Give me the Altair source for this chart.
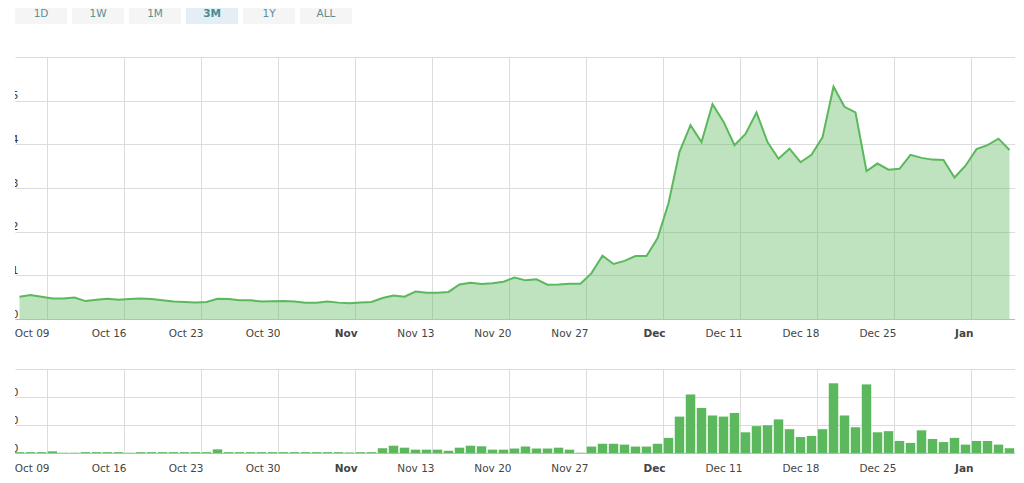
import altair as alt
import pandas as pd

# daily price, Oct 6 to Jan 4
price = [0.51, 0.55, 0.51, 0.47, 0.47, 0.49, 0.41, 0.44, 0.465, 0.44,
         0.46, 0.47, 0.46, 0.43, 0.40, 0.39, 0.38, 0.39, 0.465, 0.46,
         0.43, 0.43, 0.40, 0.405, 0.41, 0.40, 0.375, 0.375, 0.40, 0.375,
         0.36, 0.38, 0.39, 0.48, 0.54, 0.51, 0.63, 0.60, 0.60, 0.62,
         0.79, 0.83, 0.80, 0.82, 0.855, 0.95, 0.885, 0.91, 0.786, 0.79,
         0.81, 0.81, 1.05, 1.45, 1.26, 1.33, 1.44, 1.44, 1.85, 2.65,
         3.83, 4.44, 4.05, 4.92, 4.52, 3.98, 4.24, 4.73, 4.05, 3.67,
         3.90, 3.59, 3.76, 4.16, 5.32, 4.86, 4.73, 3.39, 3.56, 3.42,
         3.44, 3.76, 3.69, 3.65, 3.64, 3.24, 3.51, 3.89, 3.98, 4.13, 3.87]

volume = [3, 3, 3, 6, 1, 1, 3, 3, 3, 3,
          1, 3, 3, 3, 3, 3, 3, 3, 13, 3,
          3, 3, 3, 3, 3, 3, 3, 3, 3, 3,
          2, 3, 3, 17, 26, 19, 12, 12, 12, 8,
          19, 26, 24, 12, 12, 16, 23, 16, 16, 19,
          12, 1, 23, 33, 33, 30, 23, 23, 33, 54,
          130, 209, 161, 134, 130, 143, 74, 96, 99, 120,
          85, 57, 61, 85, 249, 134, 92, 245, 74, 78,
          43, 36, 81, 50, 39, 54, 30, 43, 43, 30, 17]

buttons = ['1D', '1W', '1M', '3M', '1Y', 'ALL']
active = '3M'

GREEN = '#5cb85c'
GRID = '#dcdcdc'
FONT = 'DejaVu Sans'


def ms(text):
    return int(pd.Timestamp(text, tz='UTC').value // 10**6)


dates = pd.date_range('2017-10-06 12:00', periods=len(price), freq='D', tz='UTC')
df = pd.DataFrame({'date': dates.strftime('%Y-%m-%dT%H:%M:%SZ'), 'price': price, 'volume': volume})

week_ticks = [ms(d) for d in pd.date_range('2017-10-09', '2018-01-01', freq='7D')]
x_domain = [ms('2017-10-06 02:11'), ms('2018-01-05')]

x_scale = alt.Scale(type='utc', domain=x_domain, padding=0)


def x_axis(pad):
    return alt.Axis(
        values=week_ticks, title=None, ticks=False, grid=True, gridColor=GRID,
        domain=True, domainColor='#bbbbbb',
        labelAlign='right', labelOffset=2, labelPadding=pad, labelFont=FONT, labelFontSize=10.5,
        labelColor='#444444', labelOverlap=False, labelFlush=False,
        labelExpr="utcdate(datum.value) <= 7 ? utcFormat(datum.value, '%b') : utcFormat(datum.value, '%b %d')",
        labelFontWeight=alt.expr("utcdate(datum.value) <= 7 ? 'bold' : 'normal'"),
    )


def y_axis(values, label):
    return alt.Axis(
        values=values, title=None, ticks=False, domain=False, grid=True, gridColor=GRID,
        labelAlign='right', labelBaseline='bottom', labelPadding=-3, labelFont=FONT,
        labelFontSize=10.5, labelColor='#333333', labelFlush=False,
        labelExpr=label,
    )


# white strip that cuts the y labels off at the plot edge, as in the page
def strip(height):
    return alt.Chart(pd.DataFrame({'a': [0]})).mark_rect(color='white').encode(
        x=alt.value(-7), x2=alt.value(0), y=alt.value(0), y2=alt.value(height)
    )


base = alt.Chart(df)

y_price = alt.Y('price:Q', scale=alt.Scale(domain=[0, 6]),
                axis=y_axis([0, 1, 2, 3, 4, 5, 6], "datum.value == 6 ? '' : format(datum.value, 'd')"))
area = base.mark_area(color=GREEN, opacity=0.4).encode(
    x=alt.X('date:T', scale=x_scale, axis=x_axis(9)), y=y_price)
line = base.mark_line(color=GREEN, strokeWidth=2).encode(
    x=alt.X('date:T', scale=x_scale, axis=x_axis(9)), y=y_price)
top = alt.layer(area, line, strip(262)).properties(width=1000, height=262)

bars = base.mark_bar(color=GREEN, size=9.5).encode(
    x=alt.X('date:T', scale=x_scale, axis=x_axis(10)),
    y=alt.Y('volume:Q', scale=alt.Scale(domain=[0, 300]),
            axis=y_axis([0, 100, 200, 300], "datum.value == 300 ? '' : '0'")),
)
bottom = alt.layer(bars, strip(84)).properties(width=1000, height=84)

df_buttons = pd.DataFrame({'name': buttons, 'on': [b == active for b in buttons]})
x_btn = alt.X('name:N', sort=buttons, axis=None,
              scale=alt.Scale(paddingInner=5 / 57, paddingOuter=0))
btn_rect = alt.Chart(df_buttons).mark_bar(size=52).encode(
    x=x_btn,
    color=alt.Color('on:N', scale=alt.Scale(domain=[False, True], range=['#f5f5f5', '#e3eef7']), legend=None),
    y=alt.value(0), y2=alt.value(16),
)
btn_text = alt.Chart(df_buttons).transform_filter('!datum.on').mark_text(
    font=FONT, fontSize=10.5, color='#5a8f94', dy=-2).encode(x=x_btn, y=alt.value(8), text='name:N')
btn_text_on = alt.Chart(df_buttons).transform_filter('datum.on').mark_text(
    font=FONT, fontSize=10.5, color='#4a8a8f', fontWeight='bold', dy=-2).encode(x=x_btn, y=alt.value(8), text='name:N')
nav = alt.layer(btn_rect, btn_text, btn_text_on).properties(width=337, height=16)

charts = alt.vconcat(top, bottom, spacing=30)
chart = alt.vconcat(nav, charts, spacing=33).configure_view(stroke=None).properties(padding=0)

chart.save("out.html", embed_options={"renderer": "svg", "actions": False})
